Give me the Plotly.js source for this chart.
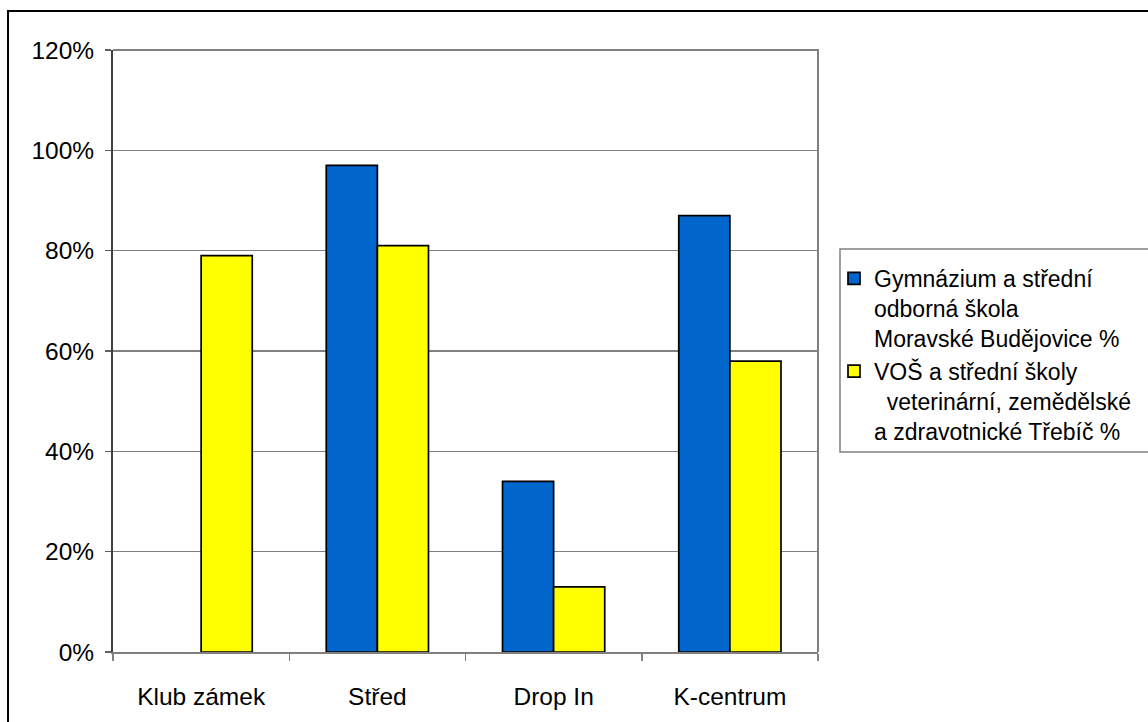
<!DOCTYPE html>
<html>
<head>
<meta charset="utf-8">
<script src="https://cdn.plot.ly/plotly-3.0.1.min.js"></script>
<style>
  html, body { margin: 0; padding: 0; background: #fff; }
  #chart { width: 1148px; height: 722px; }
</style>
</head>
<body>
<div id="chart"></div>
<script>
// Categories and shares per school
const categories = ['Klub zámek', 'Střed', 'Drop In', 'K-centrum'];
const gymnaziumValues = [0, 0.97, 0.34, 0.87];
const vosValues = [0.79, 0.81, 0.13, 0.58];
const seriesNames = [
  'Gymnázium a střední<br>odborná škola<br>Moravské Budějovice %',
  'VOŠ a střední školy<br>\u00a0\u00a0veterinární, zemědělské<br>a zdravotnické Třebíč %'
];
const yTickValues = [0, 0.2, 0.4, 0.6, 0.8, 1.0, 1.2];

const font = 'Liberation Sans, Arial, sans-serif';

// Builds one bar series. Non-zero bars are listed first so the legend swatch
// takes its outline from a visible bar; zero-height bars get no outline.
function barTrace(name, group, values, color) {
  const idx = categories.map((_, i) => i)
    .sort((a, b) => (values[b] > 0) - (values[a] > 0) || a - b);
  return {
    type: 'bar',
    name: name,
    legendgroup: group,
    x: idx.map(i => categories[i]),
    y: idx.map(i => values[i]),
    marker: {
      color: color,
      line: { color: '#000000', width: idx.map(i => (values[i] > 0 ? 1.7 : 0)) }
    },
    hoverinfo: 'x+y'
  };
}

const traces = [
  barTrace(seriesNames[0], 'g1', gymnaziumValues, '#0066CC'),
  barTrace(seriesNames[1], 'g2', vosValues, '#FFFF00')
];

const layout = {
  width: 1148,
  height: 722,
  margin: { l: 113, r: 330, t: 50, b: 70, autoexpand: false },
  paper_bgcolor: '#ffffff',
  plot_bgcolor: '#ffffff',
  font: { family: font, size: 24, color: '#000000' },
  barmode: 'group',
  bargap: 0.42,
  bargroupgap: 0,
  showlegend: true,
  legend: {
    x: (834 - 113) / 705,
    y: (652 - 257) / 602,
    xanchor: 'left',
    yanchor: 'top',
    valign: 'top',
    traceorder: 'grouped',
    tracegroupgap: 0,
    bgcolor: 'rgba(0,0,0,0)',
    borderwidth: 0,
    font: { family: font, size: 23, color: '#000000' },
    itemwidth: 30
  },
  xaxis: {
    type: 'category',
    categoryorder: 'array',
    categoryarray: categories,
    showgrid: false,
    showline: true,
    linecolor: '#808080',
    linewidth: 2,
    ticks: 'outside',
    tickson: 'boundaries',
    ticklen: 7,
    tickcolor: '#808080',
    tickwidth: 1.5,
    ticklabelstandoff: 22,
    tickfont: { family: font, size: 24.5, color: '#000000' },
    zeroline: false
  },
  yaxis: {
    range: [0, 1.2],
    tickvals: yTickValues,
    tickformat: '.0%',
    showgrid: true,
    gridcolor: '#808080',
    gridwidth: 1.2,
    showline: true,
    linecolor: '#404040',
    linewidth: 2,
    ticks: 'outside',
    ticklen: 6,
    tickcolor: '#606060',
    tickwidth: 1.5,
    ticklabelstandoff: 6,
    tickfont: { family: font, size: 24.5, color: '#000000' },
    zeroline: false
  },
  shapes: [
    // plot area border on the top and right
    {
      type: 'path', xref: 'paper', yref: 'paper',
      path: 'M 0 1 L 1 1 L 1 0',
      line: { color: '#808080', width: 2 }
    },
    // legend frame
    {
      type: 'rect', xref: 'paper', yref: 'paper',
      x0: (840 - 113) / 705, x1: (1160 - 113) / 705,
      y0: (652 - 452) / 602, y1: (652 - 249) / 602,
      line: { color: '#808080', width: 1.5 },
      fillcolor: '#ffffff',
      layer: 'below'
    },
    // outer chart frame
    {
      type: 'rect', xref: 'paper', yref: 'paper',
      x0: -0.1489, x1: 1.6, y0: -0.3, y1: 1.0648,
      line: { color: '#000000', width: 2 },
      layer: 'below'
    }
  ]
};

Plotly.newPlot('chart', traces, layout, { displayModeBar: false, staticPlot: true });
</script>
</body>
</html>
